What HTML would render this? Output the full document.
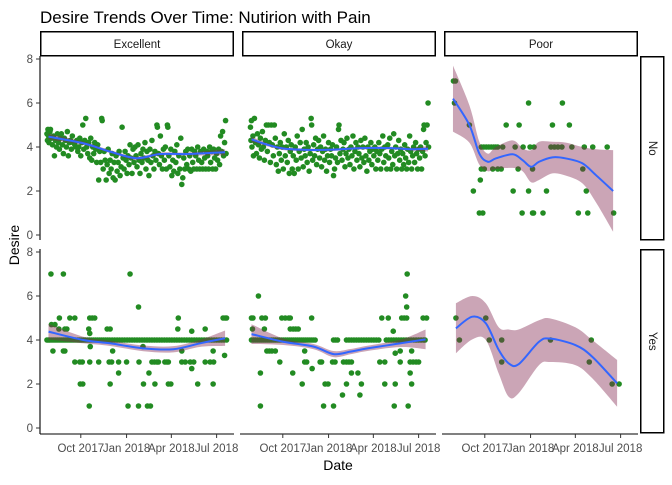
<!DOCTYPE html>
<html><head><meta charset="utf-8"><style>
body{margin:0;background:#fff;}
svg text{font-family:"Liberation Sans",sans-serif;}
</style></head><body>
<svg id="chart" width="672" height="480" xmlns="http://www.w3.org/2000/svg">
<rect width="672" height="480" fill="#fff"/>
<text x="40" y="23" font-size="17" fill="#000">Desire Trends Over Time: Nutirion with Pain</text>
<text transform="translate(19,245) rotate(-90)" text-anchor="middle" font-size="14" fill="#000">Desire</text>
<text x="338" y="470" text-anchor="middle" font-size="14" fill="#000">Date</text>
<g id="layer"></g>
</svg>
<script>
// ---- data (day index = days since 2017-07-11) ----
const colFacets = ["Excellent","Okay","Poor"];
const rowFacets = ["No","Yes"];
const xTickDays = [82,174,264,355];
const xTickLabels = ["Oct 2017","Jan 2018","Apr 2018","Jul 2018"];
const yTickValues = [0,2,4,6,8];

const excNoPts = [[14,4.6],[15,4.3],[16,4.8],[17,4.5],[18,4.2],[20,4.7],[21,4.8],[23,4.4],[25,4.1],[27,4.5],[29,3.6],[31,4.3],[33,4.0],[35,4.6],[37,4.2],[39,3.9],[41,4.4],[43,4.6],[45,4.1],[47,3.7],[49,4.4],[51,4.3],[53,4.0],[55,4.7],[57,3.6],[59,4.2],[61,4.3],[63,3.9],[65,4.5],[67,4.2],[70,4.1],[72,4.0],[74,4.3],[76,3.8],[78,4.0],[80,4.4],[82,3.6],[84,4.2],[86,5.0],[88,3.9],[90,4.3],[92,5.3],[94,4.0],[96,3.7],[98,4.2],[100,3.5],[102,4.4],[104,3.4],[106,4.0],[108,3.7],[110,4.2],[112,3.9],[114,3.3],[116,4.1],[118,2.5],[120,3.8],[122,3.3],[124,5.3],[125,5.2],[127,3.0],[129,3.8],[131,3.4],[133,2.5],[135,3.2],[137,3.9],[139,2.8],[141,3.4],[143,3.0],[145,3.7],[147,2.6],[149,3.3],[151,2.5],[153,3.6],[155,2.9],[157,3.3],[159,3.8],[161,2.7],[163,3.1],[165,4.9],[167,3.5],[169,3.0],[171,3.8],[173,3.4],[175,2.8],[177,3.6],[179,3.2],[181,4.1],[183,3.5],[185,2.8],[187,3.9],[189,3.3],[191,4.0],[193,3.6],[195,3.1],[197,4.1],[199,3.4],[201,2.8],[203,3.7],[205,3.3],[207,3.9],[209,3.5],[211,4.2],[213,3.0],[215,3.8],[217,3.4],[219,2.7],[221,3.9],[223,3.3],[225,4.3],[227,3.6],[229,3.0],[231,3.8],[233,3.4],[235,5.0],[236,4.9],[238,3.7],[240,3.2],[242,4.5],[244,3.6],[246,3.0],[248,3.9],[250,3.4],[252,4.0],[254,3.0],[256,5.0],[257,4.9],[259,3.6],[261,3.1],[263,3.9],[265,2.7],[267,3.4],[269,2.9],[271,3.8],[273,3.3],[275,4.1],[277,2.8],[279,3.6],[281,3.0],[283,4.4],[285,2.3],[287,2.6],[289,3.5],[291,3.0],[293,3.8],[295,3.2],[297,3.9],[299,3.0],[301,3.6],[303,2.9],[305,3.9],[307,3.3],[309,3.0],[311,3.8],[313,3.6],[315,3.0],[317,4.0],[319,3.4],[321,3.0],[323,3.8],[325,3.3],[327,3.0],[329,3.9],[331,3.5],[333,3.0],[335,3.8],[337,3.6],[339,3.0],[341,4.0],[343,3.3],[345,3.8],[347,3.0],[349,3.9],[351,3.5],[353,3.0],[355,3.7],[357,3.4],[359,3.9],[361,3.2],[363,4.5],[365,3.8],[367,4.7],[369,3.6],[371,4.2],[373,5.2],[374,3.7]];
const excNoFit = [[17,4.47,0.14],[87,4.17,0.08],[141,3.79,0.07],[194,3.49,0.08],[241,3.68,0.07],[295,3.68,0.07],[372,3.76,0.14]];

const okNoPts = [[17,4.9],[18,4.3],[19,5.2],[20,4.0],[22,4.5],[23,3.6],[25,5.3],[27,4.2],[29,3.7],[31,4.6],[33,4.1],[35,3.5],[37,4.4],[39,3.9],[41,4.7],[43,4.0],[45,3.4],[47,4.3],[49,5.0],[51,3.8],[53,5.0],[55,4.2],[57,3.3],[59,5.0],[61,4.1],[63,3.6],[65,5.0],[67,4.4],[69,3.2],[71,4.0],[73,2.9],[75,3.7],[77,4.2],[79,3.4],[81,4.0],[83,3.0],[85,4.6],[87,3.6],[89,4.0],[91,3.3],[93,4.3],[95,2.8],[97,3.8],[99,4.1],[101,3.0],[103,3.6],[105,2.8],[107,4.0],[109,3.4],[111,4.5],[113,3.0],[115,3.8],[117,4.2],[119,3.5],[121,4.8],[123,3.1],[125,3.9],[127,3.6],[129,4.2],[131,3.3],[133,4.0],[135,2.9],[137,3.7],[139,5.3],[140,5.0],[142,3.4],[144,4.1],[146,3.6],[148,4.4],[150,3.2],[152,3.9],[154,4.3],[156,3.5],[158,4.0],[160,3.1],[162,3.8],[164,4.5],[166,3.4],[168,3.9],[170,2.9],[172,3.6],[174,4.2],[176,3.3],[178,3.9],[180,3.6],[182,4.1],[184,2.7],[186,3.0],[188,3.5],[190,4.0],[192,3.3],[194,4.8],[195,5.0],[197,3.7],[199,4.3],[201,3.4],[203,3.9],[205,4.2],[207,3.1],[209,3.7],[211,4.4],[213,3.5],[215,3.9],[217,3.2],[219,4.0],[221,3.6],[223,4.5],[225,3.0],[227,3.8],[229,4.2],[231,3.4],[233,4.0],[235,3.7],[237,3.1],[239,4.3],[241,3.5],[243,4.0],[245,3.3],[247,4.4],[249,3.6],[251,2.9],[253,4.0],[255,3.4],[257,3.8],[259,4.2],[261,3.2],[263,3.9],[265,3.6],[267,4.0],[269,3.0],[271,3.8],[273,3.4],[275,4.2],[277,3.7],[279,3.0],[281,3.9],[283,4.5],[285,3.3],[287,4.0],[289,3.6],[291,3.0],[293,4.1],[295,3.5],[297,4.4],[299,3.0],[301,3.8],[303,3.2],[305,4.6],[307,3.6],[309,4.0],[311,3.0],[313,3.7],[315,4.3],[317,3.4],[319,3.9],[321,3.0],[323,3.7],[325,3.2],[327,4.1],[329,3.5],[331,3.0],[333,3.9],[335,3.3],[337,4.5],[339,3.8],[341,3.0],[343,3.6],[345,4.0],[347,3.3],[349,4.2],[351,3.7],[353,3.0],[355,3.9],[357,3.5],[359,4.0],[361,3.0],[363,3.8],[365,4.8],[366,5.0],[368,3.6],[370,4.2],[372,5.0],[374,6.0],[375,4.0]];
const okNoFit = [[19,4.35,0.12],[49,4.12,0.08],[83,3.93,0.07],[130,3.87,0.06],[184,3.88,0.06],[240,3.95,0.06],[300,3.95,0.06],[340,3.9,0.07],[374,3.92,0.12]];

const poorNoPts = [[19,7],[23,7],[21,6],[170,6],[238,6],[51,5],[125,5],[151,5],[218,5],[252,5],[75,4],[80,4],[85,4],[90,4],[95,4],[100,4],[104,4],[108,4],[118,4],[143,4],[159,4],[173,4],[181,4],[215,4],[222,4],[229,4],[237,4],[257,4],[282,4],[299,4],[328,4],[75,3],[81,3],[98,3],[108,3],[115,3],[149,3],[178,3],[279,3],[73,2.5],[59,2],[139,2],[170,2],[206,2],[286,2],[71,1],[78,1],[157,1],[178,1],[180,1],[199,1],[270,1],[289,1],[341,1]];
const poorNoFit = [[18,6.2,7.7,4.7],[51,5.0,5.9,4.2],[71,3.7,4.24,3.2],[88,3.33,3.7,2.9],[104,3.48,4.0,3.0],[138,3.67,4.3,3.05],[158,3.4,3.94,2.9],[175,3.1,3.86,2.4],[191,3.33,4.24,2.5],[218,3.53,4.24,2.8],[245,3.48,4.2,2.7],[278,3.26,4.0,2.35],[305,2.73,3.9,1.5],[340,2.0,3.86,0.15]];

const excYesPts = [[14,4],[17,4],[20,4],[24,4],[28,4],[32,4],[36,4],[40,4],[44,4],[48,4],[52,4],[56,4],[60,4],[64,4],[68,4],[72,4],[76,4],[80,4],[84,4],[88,4],[92,4],[96,4],[100,4],[104,4],[108,4],[112,4],[116,4],[120,4],[124,4],[128,4],[132,4],[136,4],[140,4],[145,4],[150,4],[155,4],[160,4],[165,4],[170,4],[175,4],[180,4],[185,4],[190,4],[195,4],[200,4],[205,4],[210,4],[215,4],[220,4],[225,4],[230,4],[235,4],[240,4],[245,4],[250,4],[255,4],[260,4],[265,4],[270,4],[275,4],[280,4],[285,4],[290,4],[295,4],[300,4],[305,4],[310,4],[315,4],[320,4],[325,4],[330,4],[335,4],[340,4],[345,4],[350,4],[355,4],[360,4],[365,4],[370,4],[375,4],
[22,7],[47,7],[181,7],[198,5.5],[39,5],[60,5],[70,5],[100,5],[105,5],[110,5],[278,5],[368,5],[372,5],[375,5],[23,4.7],[30,4.7],[38,4.5],[50,4.5],[54,4.5],[98,4.5],[135,4.5],[141,4.5],[277,4.5],[332,4.5],[305,4.4],[100,4.3],[101,3.7],[207,3.7],[26,3.5],[47,3.5],[50,3.5],[146,3.5],[285,3.5],[348,3.5],[371,3.3],[70,3],[80,3],[85,3],[100,3],[118,3],[139,3],[144,3],[158,3],[174,3],[199,3],[225,3],[230,3],[235,3],[238,3],[251,3],[255,3],[258,3],[285,3],[292,3],[302,3],[309,3],[332,3],[342,3],[349,3],[305,2.7],[158,2.5],[219,2.5],[81,2],[86,2],[141,2],[208,2],[231,2],[258,2],[263,2],[317,2],[348,2],[99,1],[177,1],[198,1],[216,1],[222,1]];
const excYesFit = [[17,4.38,0.35],[87,4.0,0.15],[141,3.85,0.12],[208,3.62,0.13],[268,3.58,0.14],[322,3.85,0.16],[372,4.08,0.35]];

const okYesPts = [[19,4],[23,4],[27,4],[31,4],[35,4],[39,4],[43,4],[47,4],[51,4],[55,4],[59,4],[63,4],[67,4],[71,4],[75,4],[79,4],[83,4],[87,4],[91,4],[95,4],[99,4],[103,4],[107,4],[111,4],[115,4],[119,4],[123,4],[127,4],[131,4],[135,4],[139,4],[143,4],[147,4],[184,4],[188,4],[192,4],[210,4],[215,4],[220,4],[225,4],[230,4],[235,4],[240,4],[245,4],[250,4],[255,4],[260,4],[265,4],[270,4],[275,4],[290,4],[295,4],[300,4],[305,4],[310,4],[315,4],[320,4],[325,4],[330,4],[335,4],[340,4],[345,4],[350,4],[355,4],[360,4],[365,4],[368,4],
[19,5],[22,5],[40,5],[47,5],[80,5],[87,5],[94,5],[97,5],[140,5],[281,5],[294,5],[321,5],[326,5],[331,5],[364,5],[371,5],[33,6],[329,6],[332,7],[331,5.5],[21,4.5],[45,4.5],[97,4.5],[103,4.5],[108,4.5],[113,4.5],[304,4.4],[50,3.5],[55,3.5],[60,3.5],[67,3.5],[126,3.5],[318,3.5],[341,3.5],[308,3.4],[37,2.5],[102,2.5],[76,3],[126,3],[130,3],[157,3],[160,3],[182,3],[187,3],[204,3],[210,3],[215,3],[220,3],[277,3],[287,3],[318,3],[338,3],[344,3],[350,3],[355,3],[141,2.7],[121,2],[167,2],[173,2],[210,2],[240,2],[287,2],[308,2],[341,2],[220,2.5],[233,2.5],[338,2.5],[202,1.5],[237,1.5],[37,1],[164,1],[184,1],[306,1],[334,1]];
const okYesFit = [[19,4.27,0.45],[83,3.92,0.15],[144,3.7,0.12],[184,3.36,0.14],[218,3.47,0.12],[252,3.62,0.12],[319,3.85,0.17],[369,4.03,0.45]];

const poorYesPts = [[24,5],[31,4],[84,5],[91,4],[116,4],[116,3],[214,4],[292,3],[296,4],[338,2],[352,2]];
const poorYesFit = [[24,4.53,5.67,3.4],[57,5.06,6.0,4.03],[84,4.76,5.67,4.0],[110,3.55,4.58,2.48],[130,2.94,4.48,1.42],[150,2.9,4.48,1.58],[191,3.92,4.9,2.86],[214,4.06,4.98,3.0],[264,3.77,4.58,2.86],[298,3.24,4.0,2.26],[348,2.03,3.09,0.97]];

// ---- layout ----
const NS = "http://www.w3.org/2000/svg";
const layer = document.getElementById("layer");
const panelLeft = [40,242,444], panelW = 194;
const rowTop = [56,249], rowZeroY = [235,428], unit = 22;
const pxPerDay = 0.4975;
function xScale(c, day){ return panelLeft[c] + day*pxPerDay; }
function yScale(r, v){ return rowZeroY[r] - v*unit; }
function mk(tag, attrs){ const e=document.createElementNS(NS,tag); for(const k in attrs) e.setAttribute(k,attrs[k]); layer.appendChild(e); return e; }

const panels = [
 {c:0,r:0,pts:excNoPts,fit:excNoFit,sym:true},
 {c:1,r:0,pts:okNoPts,fit:okNoFit,sym:true},
 {c:2,r:0,pts:poorNoPts,fit:poorNoFit,sym:false},
 {c:0,r:1,pts:excYesPts,fit:excYesFit,sym:true},
 {c:1,r:1,pts:okYesPts,fit:okYesFit,sym:true},
 {c:2,r:1,pts:poorYesPts,fit:poorYesFit,sym:false}
];

function smoothPath(pts){
  let d = "M"+pts[0][0].toFixed(1)+","+pts[0][1].toFixed(1);
  for(let i=0;i<pts.length-1;i++){
    const p0=pts[Math.max(0,i-1)],p1=pts[i],p2=pts[i+1],p3=pts[Math.min(pts.length-1,i+2)];
    const c1=[p1[0]+(p2[0]-p0[0])/6,p1[1]+(p2[1]-p0[1])/6];
    const c2=[p2[0]-(p3[0]-p1[0])/6,p2[1]-(p3[1]-p1[1])/6];
    d+="C"+c1.join(",")+" "+c2.join(",")+" "+p2[0]+","+p2[1];
  }
  return d;
}

panels.forEach(p=>{
  p.pts.forEach(pt=>{
    const el = mk("circle",{cx:xScale(p.c,pt[0]),cy:yScale(p.r,pt[1]),r:2.8,fill:"#228B22"});
    
    
  });
  const hi = p.fit.map(f=>[xScale(p.c,f[0]), yScale(p.r, p.sym? f[1]+f[2] : f[2])]);
  const lo = p.fit.map(f=>[xScale(p.c,f[0]), yScale(p.r, p.sym? f[1]-f[2] : f[3])]).reverse();
  const loPath = smoothPath(lo).replace(/^M/,"L");
  const band = mk("path",{d:smoothPath(hi)+loPath+"Z",fill:"rgba(130,40,80,0.42)"});
  
  
  const mid = p.fit.map(f=>[xScale(p.c,f[0]), yScale(p.r,f[1])]);
  const line = mk("path",{d:smoothPath(mid),fill:"none",stroke:"#3366FF","stroke-width":2});
  
  
});

[0,1].forEach(r=>{
  const ax = mk("line",{x1:40,x2:40,y1:rowTop[r],y2:r===0?240:434,stroke:"#000","stroke-width":1.1});
  
  
  yTickValues.forEach(v=>{
    const y=yScale(r,v);
    const t=mk("line",{x1:36,x2:40,y1:y,y2:y,stroke:"#333","stroke-width":1});
    
    
    const l=mk("text",{x:33,y:y+4,"text-anchor":"end","font-size":11.5,fill:"#4D4D4D"});
    l.textContent=v;
    
    
  });
});
[0,1,2].forEach(c=>{
  const ax=mk("line",{x1:panelLeft[c]-(c===0?0:2),x2:panelLeft[c]+panelW,y1:434,y2:434,stroke:"#000","stroke-width":1.1});
  
  
  xTickDays.forEach((d,i)=>{
    const x=xScale(c,d);
    const t=mk("line",{x1:x,x2:x,y1:434,y2:438,stroke:"#333","stroke-width":1});
    
    
    const l=mk("text",{x:x,y:452,"text-anchor":"middle","font-size":11.5,fill:"#4D4D4D"});
    l.textContent=xTickLabels[i];
    
    
  });
  const s=mk("rect",{x:panelLeft[c]+0.75,y:31.75,width:panelW-1.5,height:24,fill:"#fff",stroke:"#000","stroke-width":1.5});
  
  
  const st=mk("text",{x:panelLeft[c]+panelW/2,y:48,"text-anchor":"middle","font-size":11.5,fill:"#1A1A1A"});
  st.textContent=colFacets[c];
  
  
});
[[56.75,183],[249.75,183]].forEach((g,r)=>{
  const s=mk("rect",{x:640.75,y:g[0],width:23,height:g[1],fill:"#fff",stroke:"#000","stroke-width":1.5});
  
  
  const cy=g[0]+g[1]/2;
  const st=mk("text",{x:652,y:cy,"text-anchor":"middle","font-size":11.5,fill:"#1A1A1A",transform:"rotate(90 652 "+cy+")","dominant-baseline":"central"});
  st.textContent=rowFacets[r];
  
  
});
</script>
</body></html>
